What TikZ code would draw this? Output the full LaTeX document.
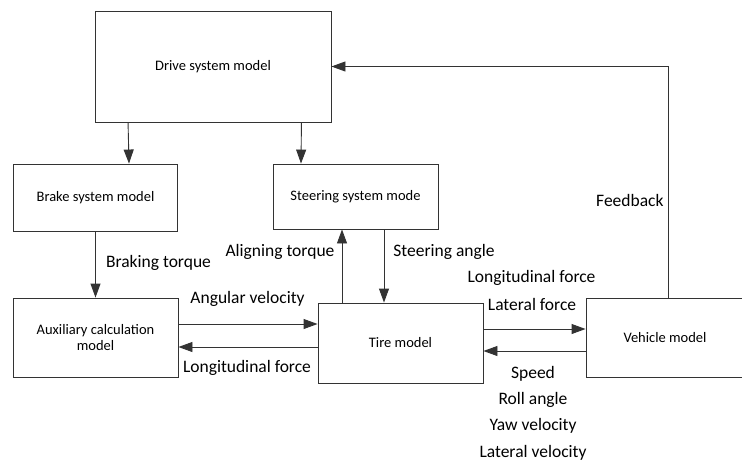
\documentclass[tikz,border=0pt]{standalone}
\usepackage{fontspec}
\setmainfont{Carlito}
\usetikzlibrary{arrows.meta}
\tikzset{
	every path/.style={line width=0.9pt},
	align=center,
	model/.style={
		draw=black!80,
		rectangle,
		inner sep=0pt,
		font=\fontsize{14.5}{16}\selectfont,
	},
	flow/.style={
		draw=black!80,
		-{Triangle[length=14pt,width=10pt]}
	},
	sig/.style={
		font=\fontsize{17.5}{26.3}\selectfont,
		inner sep=0pt,
	},
}

\begin{document}
\begin{tikzpicture}[x=1pt,y=-1pt]
		\useasboundingbox (0,0) rectangle (742,464);

		\node[model,minimum width=236pt,minimum height=111pt] (drive) at (213,66.5) {Drive system model};
		\node[model,minimum width=164pt,minimum height=67pt]  (brake) at (95.5,197.5) {Brake system model};
		\node[model,minimum width=165pt,minimum height=65pt]  (steer) at (355.5,196.5) {Steering system mode};
		\node[model,minimum width=165pt,minimum height=79pt]  (aux) at (95.5,337.5) {Auxiliary calculation\\model};
		\node[model,minimum width=165pt,minimum height=80pt]  (tire) at (400.5,343) {Tire model};
		\node[model,minimum width=158pt,minimum height=79pt]  (veh) at (665,337.5) {Vehicle model};

		\draw[flow] ([xshift=33.5pt]drive.south west) -- ([xshift=33.5pt]brake.north);
		\draw[flow] ([xshift=-30pt]drive.south east) -- ([xshift=-54.5pt]steer.north);
		\draw[flow] (brake.south) -- (aux.north);
		\draw[flow] ([xshift=-58.5pt]tire.north) -- ([xshift=-13.5pt]steer.south);
		\draw[flow] ([xshift=28.5pt]steer.south) -- ([xshift=-16.5pt]tire.north);
		\draw[flow] ([yshift=13.5pt]aux.east) -- ([yshift=19pt]tire.west);
		\draw[flow] ([yshift=-4pt]tire.west) -- ([yshift=-9.5pt]aux.east);
		\draw[flow] ([yshift=14pt]tire.east) -- ([yshift=8.5pt]veh.west);
		\draw[flow] ([yshift=-13.5pt]veh.west) -- ([yshift=-8pt]tire.east);
		\draw[flow] ([xshift=3.5pt]veh.north) |- (drive.east);

		% signal labels
		\node[sig] (brk)  at (158.5,263) {Braking torque};
		\node[sig] (aln)  at (280,252) {Aligning torque};
		\node[sig] (sta)  at (444,252) {Steering angle};
		\node[sig] (ang)  at (247.5,299) {Angular velocity};
		\node[sig] (lonb) at (247,368) {Longitudinal force};
		\node[sig] (lont) at (531.5,278) {Longitudinal force};
		\node[sig] (lat)  at (532,304) {Lateral force};
		\node[sig,anchor=east] (fb) at (664,200) {Feedback};
		\node[sig] (state) at (533,413) {Speed\\Roll angle\\Yaw velocity\\Lateral velocity};
	\end{tikzpicture}
\end{document}
